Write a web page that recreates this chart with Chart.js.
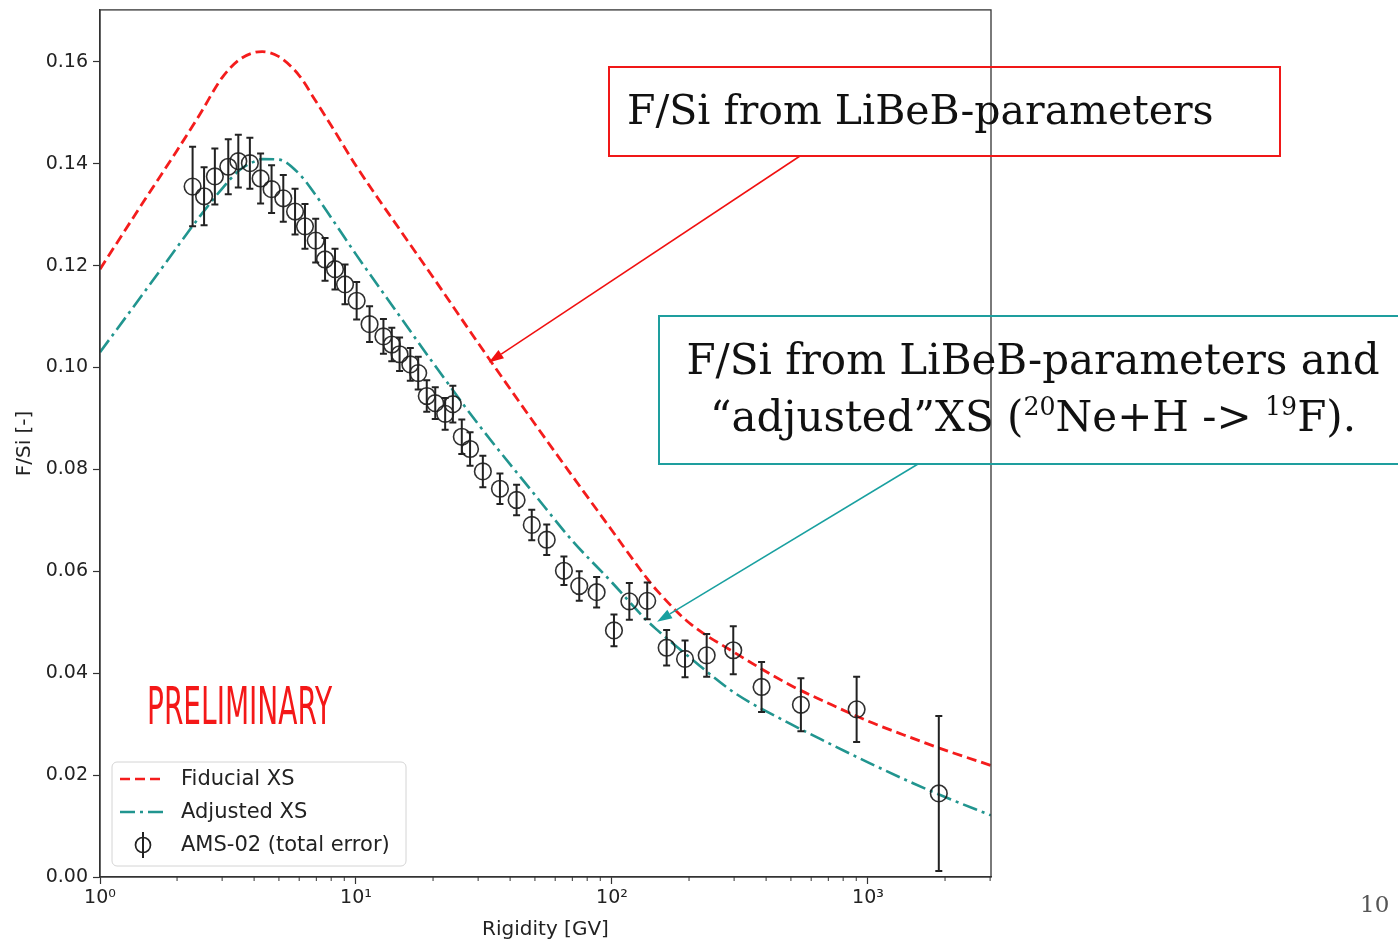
<!DOCTYPE html>
<html>
<head>
<meta charset="utf-8">
<title>F/Si</title>
<script src="https://cdn.jsdelivr.net/npm/chart.js@4.4.1/dist/chart.umd.min.js"></script>
<style>
html, body { margin: 0; padding: 0; background: #fff; overflow: hidden; }
#wrap { position: relative; width: 1398px; height: 943px; }
#chart { position: absolute; left: 0; top: 0; }
.box { position: absolute; box-sizing: border-box; }
.serif { position: absolute; font-family: "DejaVu Serif", serif; color: #111; white-space: nowrap; }
#prelim { position: absolute; left: 147px; top: 680px; font-family: "Liberation Sans Narrow", "DejaVu Sans Condensed", Roboto, sans-serif;
  font-size: 52px; line-height: 52px; color: #f41818; white-space: nowrap; transform-origin: 0 0; }
sup { font-size: 0.6em; line-height: 0; vertical-align: 0.65em; }
</style>
</head>
<body>
<div id="wrap">
  <canvas id="chart" width="1398" height="943"></canvas>

  <div class="box" style="left:608px;top:66px;width:673px;height:91px;border:2px solid #f01818;"></div>
  <div class="serif" style="left:627px;top:90px;font-size:41px;line-height:41px;">F/Si from LiBeB-parameters</div>

  <div class="box" style="left:658px;top:315px;width:760px;height:150px;border:2px solid #1e9e9e;"></div>
  <div class="serif" style="left:658px;top:331px;width:750px;text-align:center;font-size:42px;line-height:57px;">F/Si from LiBeB-parameters and<br>“adjusted”XS (<sup>20</sup>Ne+H -&gt; <sup>19</sup>F).</div>

  <div id="prelim">PRELIMINARY</div>
  <div class="serif" style="left:1360px;top:893px;font-size:23px;line-height:23px;color:#555;">10</div>
</div>

<script>
// model curves, sampled along rigidity (GV)
var curveR = [1, 1.5, 2, 2.45, 3, 3.5, 4, 4.3, 5, 6, 6.9, 8, 10, 15, 20, 30, 50, 70, 100, 137, 150, 200, 300, 500, 700, 1000, 1500, 2000, 3020];
var fiducialXS = [0.1193, 0.1330, 0.1426, 0.1496, 0.1569, 0.1604, 0.1618, 0.1620, 0.1610, 0.1573, 0.1526, 0.1475, 0.1396, 0.1267, 0.1177,
  0.1048, 0.0889, 0.0787, 0.0680, 0.0586, 0.0562, 0.0499, 0.0441, 0.0376, 0.0341, 0.0306, 0.0272, 0.0249, 0.0219];
var adjustedXS = [0.1030, 0.1150, 0.1236, 0.1296, 0.1351, 0.1387, 0.1404, 0.1409, 0.1408, 0.1380, 0.1341, 0.1294, 0.1222, 0.1097, 0.1009,
  0.0889, 0.0750, 0.0660, 0.0578, 0.0503, 0.0485, 0.0432, 0.0362, 0.0300, 0.0263, 0.0225, 0.0184, 0.0157, 0.0121];

// AMS-02 points
var amsR = [2.30, 2.55, 2.81, 3.17, 3.47, 3.85, 4.24, 4.68, 5.20, 5.78, 6.32, 6.96, 7.57, 8.28, 9.06, 10.06,
  11.3, 12.8, 13.8, 14.8, 16.3, 17.5, 18.9, 20.4, 22.3, 23.9, 25.9, 27.9, 31.3, 36.5, 42.4, 48.6, 55.6, 64.9, 74.5, 87.1,
  101.8, 116.9, 137.3, 163.5, 192.9, 234.4, 297.7, 384, 547, 903, 1891];
var amsRatio = [0.1355, 0.1336, 0.1375, 0.1394, 0.1405, 0.1401, 0.1371, 0.1350, 0.1332, 0.1306, 0.1277, 0.1249, 0.1212, 0.1193, 0.1163, 0.1131,
  0.1085, 0.1061, 0.1045, 0.1026, 0.1006, 0.0989, 0.0944, 0.0930, 0.0909, 0.0928, 0.0864, 0.0840, 0.0796, 0.0762, 0.0740, 0.0691, 0.0662, 0.0601, 0.0571, 0.0559,
  0.0484, 0.0541, 0.0542, 0.0450, 0.0428, 0.0435, 0.0445, 0.0373, 0.0338, 0.0329, 0.0164];
var amsErr = [0.0078, 0.0057, 0.0055, 0.0054, 0.0052, 0.0050, 0.0049, 0.0047, 0.0046, 0.0045, 0.0044, 0.0043, 0.0042, 0.0040, 0.0039, 0.0037,
  0.0035, 0.0034, 0.0033, 0.0033, 0.0032, 0.0032, 0.0031, 0.0031, 0.0031, 0.0036, 0.0034, 0.0033, 0.0031, 0.0030, 0.0030, 0.0030, 0.0030, 0.0028, 0.0029, 0.0030,
  0.0031, 0.0036, 0.0036, 0.0035, 0.0036, 0.0042, 0.0047, 0.0049, 0.0052, 0.0064, 0.0152];

var xMajor = [1, 10, 100, 1000];
var yTicks = [0, 0.02, 0.04, 0.06, 0.08, 0.10, 0.12, 0.14, 0.16];
var supDigits = ['⁰', '¹', '²', '³'];

var RED = '#f41c1c';
var TEAL = '#21958f';
var INK = '#222';

function pts(xs, ys) {
  return xs.map(function (x, i) { return { x: x, y: ys[i] }; });
}

function arrow(ctx, x0, y0, x1, y1, color) {
  var a = Math.atan2(y1 - y0, x1 - x0);
  var L = 15, W = 5;
  ctx.strokeStyle = color;
  ctx.fillStyle = color;
  ctx.lineWidth = 1.5;
  ctx.beginPath();
  ctx.moveTo(x0, y0);
  ctx.lineTo(x1 - L * Math.cos(a), y1 - L * Math.sin(a));
  ctx.stroke();
  ctx.beginPath();
  ctx.moveTo(x1, y1);
  ctx.lineTo(x1 - L * Math.cos(a) + W * Math.sin(a), y1 - L * Math.sin(a) - W * Math.cos(a));
  ctx.lineTo(x1 - L * Math.cos(a) - W * Math.sin(a), y1 - L * Math.sin(a) + W * Math.cos(a));
  ctx.closePath();
  ctx.fill();
}

var errorBars = {
  id: 'errorBars',
  afterDatasetsDraw: function (chart) {
    var ctx = chart.ctx, x = chart.scales.x, y = chart.scales.y;
    ctx.save();
    ctx.strokeStyle = INK;
    ctx.lineWidth = 2;
    for (var i = 0; i < amsR.length; i++) {
      var px = x.getPixelForValue(amsR[i]);
      var top = y.getPixelForValue(amsRatio[i] + amsErr[i]);
      var bot = y.getPixelForValue(amsRatio[i] - amsErr[i]);
      ctx.beginPath();
      ctx.moveTo(px, top); ctx.lineTo(px, bot);
      ctx.moveTo(px - 3.5, top); ctx.lineTo(px + 3.5, top);
      ctx.moveTo(px - 3.5, bot); ctx.lineTo(px + 3.5, bot);
      ctx.stroke();
    }
    ctx.restore();
  }
};

var frameAndLegend = {
  id: 'frameAndLegend',
  afterDraw: function (chart) {
    var ctx = chart.ctx, a = chart.chartArea, x = chart.scales.x, y = chart.scales.y;
    ctx.save();
    // axes box
    ctx.strokeStyle = '#333';
    ctx.lineWidth = 1.3;
    ctx.strokeRect(a.left, a.top, a.right - a.left, a.bottom - a.top);
    // minor ticks on the log axis
    ctx.lineWidth = 1;
    for (var n = 0; n < 4; n++) {
      for (var m = 2; m < 10; m++) {
        var v = m * Math.pow(10, n);
        if (v > x.max) break;
        var px = x.getPixelForValue(v);
        ctx.beginPath();
        ctx.moveTo(px, a.bottom); ctx.lineTo(px, a.bottom + 4);
        ctx.stroke();
      }
    }

    // legend
    var lx = 112, ly = 762, lw = 294, lh = 104, r = 5;
    ctx.beginPath();
    ctx.moveTo(lx + r, ly);
    ctx.arcTo(lx + lw, ly, lx + lw, ly + lh, r);
    ctx.arcTo(lx + lw, ly + lh, lx, ly + lh, r);
    ctx.arcTo(lx, ly + lh, lx, ly, r);
    ctx.arcTo(lx, ly, lx + lw, ly, r);
    ctx.closePath();
    ctx.fillStyle = 'rgba(255,255,255,0.85)';
    ctx.fill();
    ctx.strokeStyle = '#d4d4d4';
    ctx.lineWidth = 1;
    ctx.stroke();

    ctx.lineWidth = 2.7;
    ctx.strokeStyle = RED;
    ctx.setLineDash([10, 5]);
    ctx.beginPath(); ctx.moveTo(120, 779); ctx.lineTo(163, 779); ctx.stroke();
    ctx.strokeStyle = TEAL;
    ctx.setLineDash([15, 5, 3, 5]);
    ctx.beginPath(); ctx.moveTo(120, 812); ctx.lineTo(164, 812); ctx.stroke();
    ctx.setLineDash([]);
    ctx.strokeStyle = INK;
    ctx.lineWidth = 1.7;
    ctx.beginPath(); ctx.arc(143, 845, 7.5, 0, Math.PI * 2); ctx.stroke();
    ctx.lineWidth = 2;
    ctx.beginPath();
    ctx.moveTo(143, 832); ctx.lineTo(143, 858);
    ctx.stroke();

    ctx.fillStyle = INK;
    ctx.font = '21px "DejaVu Sans"';
    ctx.textBaseline = 'middle';
    ctx.fillText('Fiducial XS', 181, 780);
    ctx.fillText('Adjusted XS', 181, 813);
    ctx.fillText('AMS-02 (total error)', 181, 846);

    // annotation arrows, tips on the curves
    arrow(ctx, 800, 156, x.getPixelForValue(33), y.getPixelForValue(0.101), '#f01010');
    arrow(ctx, 918, 464, x.getPixelForValue(150), y.getPixelForValue(0.0501), '#19a0a0');
    ctx.restore();
  }
};

new Chart(document.getElementById('chart'), {
  type: 'scatter',
  data: {
    datasets: [
      {
        label: 'Fiducial XS', type: 'line', data: pts(curveR, fiducialXS),
        borderColor: RED, borderWidth: 2.8, borderDash: [10, 5], pointRadius: 0,
        cubicInterpolationMode: 'monotone', fill: false, order: 2
      },
      {
        label: 'Adjusted XS', type: 'line', data: pts(curveR, adjustedXS),
        borderColor: TEAL, borderWidth: 2.6, borderDash: [15, 5, 3, 5], pointRadius: 0,
        cubicInterpolationMode: 'monotone', fill: false, order: 1
      },
      {
        label: 'AMS-02 (total error)', data: pts(amsR, amsRatio),
        pointRadius: 8.3, pointBorderWidth: 1.6, pointBorderColor: 'rgba(25,25,25,0.9)',
        pointBackgroundColor: 'rgba(0,0,0,0)', showLine: false, order: 0
      }
    ]
  },
  options: {
    responsive: false,
    animation: false,
    layout: { padding: { left: 0, right: 407, top: 8, bottom: 0 } },
    plugins: { legend: { display: false }, tooltip: { enabled: false } },
    scales: {
      x: {
        type: 'logarithmic', min: 1, max: 3024,
        afterBuildTicks: function (s) { s.ticks = xMajor.map(function (v) { return { value: v }; }); },
        afterFit: function (s) { s.height = 66; s.paddingLeft = 0; s.paddingRight = 0; },
        ticks: {
          autoSkip: false, maxRotation: 0, padding: 3, color: INK,
          font: { family: 'DejaVu Sans', size: 19 },
          callback: function (v) { return '10' + supDigits[Math.round(Math.log10(v))]; }
        },
        grid: { drawOnChartArea: false, tickLength: 7, color: '#333', tickWidth: 1.2 },
        border: { color: '#333', width: 1.3 },
        title: { display: true, text: 'Rigidity [GV]', color: INK, font: { family: 'DejaVu Sans', size: 20 }, padding: { top: 0, bottom: 1 } }
      },
      y: {
        min: 0, max: 0.17018,
        afterBuildTicks: function (s) { s.ticks = yTicks.map(function (v) { return { value: v }; }); },
        afterFit: function (s) { s.width = 100; s.paddingTop = 0; s.paddingBottom = 0; },
        ticks: {
          padding: 5, color: INK,
          font: { family: 'DejaVu Sans', size: 19 },
          callback: function (v) { return v.toFixed(2); }
        },
        grid: { drawOnChartArea: false, tickLength: 7, color: '#333', tickWidth: 1.2 },
        border: { color: '#333', width: 1.3 },
        title: { display: true, text: 'F/Si [-]', color: INK, font: { family: 'DejaVu Sans', size: 20 }, padding: { top: 13, bottom: 0 } }
      }
    }
  },
  plugins: [errorBars, frameAndLegend]
});

// squeeze the condensed label to its width in the slide
var pre = document.getElementById('prelim');
pre.style.transform = 'scaleX(' + (185 / pre.offsetWidth) + ')';
</script>
</body>
</html>
